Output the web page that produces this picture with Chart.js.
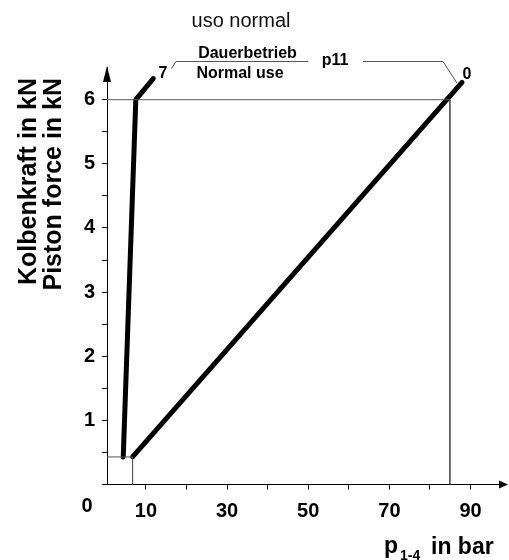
<!DOCTYPE html>
<html>
<head>
<meta charset="utf-8">
<script src="https://cdn.jsdelivr.net/npm/chart.js@4.4.1/dist/chart.umd.min.js"></script>
<style>
    html, body { margin: 0; padding: 0; background: #fff; }
    #wrap { width: 509px; height: 560px; }
</style>
</head>
<body>
<div id="wrap"><canvas id="Chart1" width="509" height="560"></canvas></div>
<script>
// =========== data
const xMin = 0.4, xMax = 98;
const yMin = 0, yMax = 6.51;
const line7X = [4.4, 7.5, 11.8];
const line7Y = [0.43, 6.0, 6.33];
const line0X = [6.7, 87.9];
const line0Y = [0.43, 6.27];
const guideX = [0.4, 84.9, 84.9];
const guideY = [6, 6, 0];
const boxX = [0.4, 6.7, 6.7];
const boxY = [0.43, 0.43, 0];
const xTickLabels = [10, 30, 50, 70, 90];
const yTickLabels = [1, 2, 3, 4, 5, 6];

const FONT = "'Liberation Sans', Arial, sans-serif";

function pts(xs, ys) {
    return xs.map((x, i) => ({ x: x, y: ys[i] }));
}

// =========== texts, leaders and arrows
const extras = {
    id: "extras",
    afterDraw(chart) {
        const c = chart.ctx;
        const a = chart.chartArea;
        c.save();
        c.fillStyle = "#000";
        c.strokeStyle = "#000";

        // axis arrow heads
        c.beginPath();
        c.moveTo(a.left, 66);
        c.lineTo(a.left - 4, 82);
        c.lineTo(a.left + 4, 82);
        c.closePath();
        c.fill();
        c.beginPath();
        c.moveTo(508, a.bottom);
        c.lineTo(499, a.bottom - 4);
        c.lineTo(499, a.bottom + 4);
        c.closePath();
        c.fill();

        // leader lines
        c.strokeStyle = "#555";
        c.lineWidth = 1;
        c.beginPath();
        c.moveTo(171.5, 68.5);
        c.lineTo(176, 61.5);
        c.lineTo(308, 61.5);
        c.moveTo(363, 61.5);
        c.lineTo(443, 61.5);
        c.lineTo(457, 83);
        c.stroke();

        c.textAlign = "center";
        c.textBaseline = "alphabetic";
        c.fillStyle = "#111";
        c.font = "20px " + FONT;
        c.fillText("uso normal", 241, 27);

        c.fillStyle = "#000";
        c.font = "bold 16px " + FONT;
        c.fillText("Dauerbetrieb", 247.5, 58);
        c.fillText("Normal use", 240, 78);
        c.fillText("p11", 335, 65);
        c.fillText("7", 163, 78);
        c.fillText("0", 467, 79);

        c.font = "bold 20px " + FONT;
        c.textBaseline = "middle";
        c.fillText("0", 87, 506);

        // y titles
        c.font = "bold 25px " + FONT;
        c.textAlign = "right";
        c.save();
        c.translate(29, 78);
        c.rotate(-Math.PI / 2);
        c.fillText("Kolbenkraft in kN", 0, 0);
        c.restore();
        c.save();
        c.translate(54, 78);
        c.rotate(-Math.PI / 2);
        c.fillText("Piston force in kN", 0, 0);
        c.restore();

        // x title with subscript
        c.textAlign = "left";
        c.textBaseline = "alphabetic";
        c.font = "bold 23px " + FONT;
        c.fillText("p", 384, 553);
        c.font = "bold 14px " + FONT;
        c.fillText("1-4", 400, 560);
        c.font = "bold 23px " + FONT;
        c.fillText("in bar", 431, 554);
        c.restore();
    },
};

const ctx1 = document.getElementById("Chart1").getContext("2d");
const chart1 = new Chart(ctx1, {
    type: "scatter",
    data: {
        datasets: [
            {
                data: pts(guideX, guideY),
                showLine: true,
                borderColor: "#555",
                borderWidth: 1,
                pointRadius: 0,
            },
            {
                data: pts(boxX, boxY),
                showLine: true,
                borderColor: "#555",
                borderWidth: 1,
                pointRadius: 0,
            },
            {
                data: pts(line7X, line7Y),
                showLine: true,
                borderColor: "#000",
                borderWidth: 5,
                borderCapStyle: "round",
                borderJoinStyle: "round",
                pointRadius: 0,
            },
            {
                data: pts(line0X, line0Y),
                showLine: true,
                borderColor: "#000",
                borderWidth: 5,
                borderCapStyle: "round",
                pointRadius: 0,
            },
        ],
    },
    options: {
        responsive: false,
        animation: false,
        devicePixelRatio: 1,
        layout: {
            padding: { top: 67, right: 6, left: 0, bottom: 0 },
        },
        plugins: {
            legend: { display: false },
            tooltip: { enabled: false },
        },
        scales: {
            x: {
                type: "linear",
                min: xMin,
                max: xMax,
                afterFit: (s) => { s.height = 75.5; },
                border: { color: "#000", width: 1 },
                grid: {
                    drawOnChartArea: false,
                    drawTicks: true,
                    tickLength: 5,
                    color: "#000",
                },
                ticks: {
                    stepSize: 10,
                    includeBounds: false,
                    maxRotation: 0,
                    autoSkip: false,
                    padding: 10,
                    color: "#000",
                    font: { family: FONT, size: 20, weight: "bold" },
                    callback: (v) => (xTickLabels.includes(v) ? String(v) : ""),
                },
            },
            y: {
                type: "linear",
                min: yMin,
                max: yMax,
                afterFit: (s) => { s.width = 107; },
                afterBuildTicks: (s) => {
                    s.ticks = s.ticks.filter((t) => t.value <= 6);
                },
                border: { color: "#000", width: 1 },
                grid: {
                    drawOnChartArea: false,
                    drawTicks: true,
                    tickLength: 5,
                    color: "#000",
                },
                ticks: {
                    stepSize: 0.5,
                    includeBounds: false,
                    autoSkip: false,
                    padding: 7,
                    color: "#000",
                    font: { family: FONT, size: 20, weight: "bold" },
                    callback: (v) => (yTickLabels.includes(v) ? String(v) : ""),
                },
            },
        },
    },
    plugins: [extras],
});
</script>
</body>
</html>
